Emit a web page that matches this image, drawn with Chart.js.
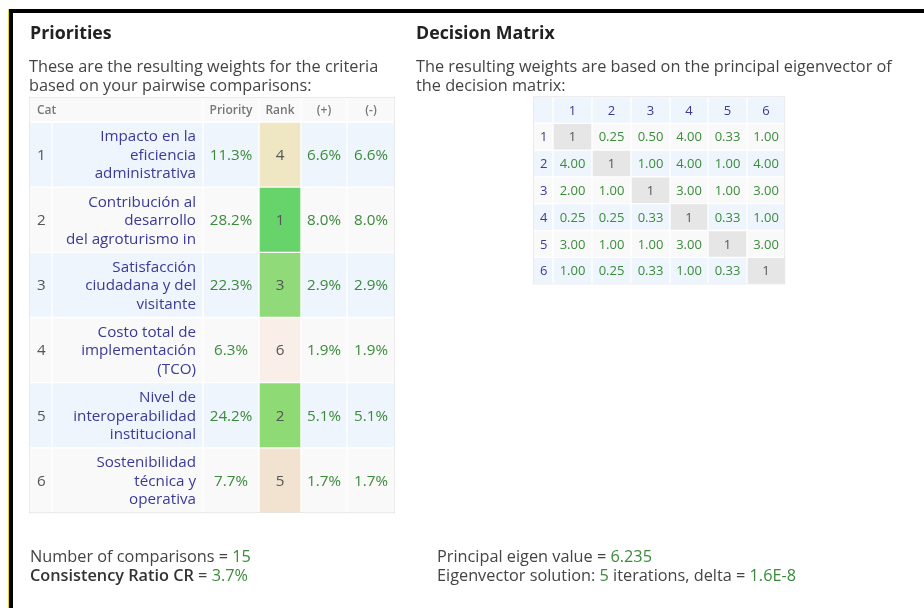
<!DOCTYPE html>
<html>
<head>
<meta charset="utf-8">
<script src="https://cdn.jsdelivr.net/npm/chart.js@4.4.0/dist/chart.umd.min.js"></script>
<style>
  body { margin:0; width:924px; height:608px; overflow:hidden; background:#fff; position:relative;
         font-family:"Open Sans", sans-serif; color:#444; }
  #frameTop { position:absolute; left:9px; top:9px; right:0; height:4px; background:#000; }
  #frameLeft { position:absolute; left:9px; top:9px; bottom:0; width:4px; background:#000; }
  #frameYellow { position:absolute; left:8px; top:9px; bottom:0; width:1px; background:#e5dc00; }
  canvas { position:absolute; left:0; top:0; }
  .t { position:absolute; white-space:nowrap; }
  .h { font-weight:700; font-size:17.8px; color:#222; top:20px; }
  .p { font-size:16.3px; line-height:18.5px; top:57px; color:#444; }
  .f { font-size:16.3px; line-height:19.5px; top:546.5px; color:#444; }
  .g { color:#3b8b3b; }
  b { font-weight:600; color:#333; }
</style>
</head>
<body>
<div id="frameYellow"></div>
<div id="frameTop"></div>
<div id="frameLeft"></div>
<canvas id="c" width="924" height="608"></canvas>

<div class="t h" style="left:30px">Priorities</div>
<div class="t h" style="left:416px">Decision Matrix</div>
<div class="t p" style="left:29px">These are the resulting weights for the criteria<br>based on your pairwise comparisons:</div>
<div class="t p" style="left:416px">The resulting weights are based on the principal eigenvector of<br>the decision matrix:</div>
<div class="t f" style="left:30px">Number of comparisons = <span class="g" id="nComp"></span><br><b>Consistency Ratio CR</b> = <span class="g" id="cr"></span></div>
<div class="t f" style="left:437px">Principal eigen value = <span class="g" id="lambda"></span><br>Eigenvector solution: <span class="g" id="iter"></span> iterations, delta = <span class="g" id="delta"></span></div>

<script>
// table data
const catIds = ['1', '2', '3', '4', '5', '6'];
const catNames = [
    'Impacto en la\neficiencia\nadministrativa',
    'Contribución al\ndesarrollo\ndel agroturismo in',
    'Satisfacción\nciudadana y del\nvisitante',
    'Costo total de\nimplementación\n(TCO)',
    'Nivel de\ninteroperabilidad\ninstitucional',
    'Sostenibilidad\ntécnica y\noperativa'
];
const priorities = [11.3, 28.2, 22.3, 6.3, 24.2, 7.7];
const ranks = [4, 1, 3, 6, 2, 5];
const errPlus = [6.6, 8.0, 2.9, 1.9, 5.1, 1.7];
const errMinus = [6.6, 8.0, 2.9, 1.9, 5.1, 1.7];
const headerLabels = ['Cat', 'Priority', 'Rank', '(+)', '(-)'];

const matrixLabels = ['1', '2', '3', '4', '5', '6'];
const matrix = [
    [1, 0.25, 0.50, 4.00, 0.33, 1.00],
    [4.00, 1, 1.00, 4.00, 1.00, 4.00],
    [2.00, 1.00, 1, 3.00, 1.00, 3.00],
    [0.25, 0.25, 0.33, 1, 0.33, 1.00],
    [3.00, 1.00, 1.00, 3.00, 1, 3.00],
    [1.00, 0.25, 0.33, 1.00, 0.33, 1]
];

const nComparisons = 15;
const consistencyRatio = 3.7;
const eigenValue = 6.235;
const iterations = 5;
const delta = '1.6E-8';

document.getElementById('nComp').textContent = nComparisons;
document.getElementById('cr').textContent = consistencyRatio + '%';
document.getElementById('lambda').textContent = eigenValue;
document.getElementById('iter').textContent = iterations;
document.getElementById('delta').textContent = delta;

// layout (page pixels)
const prioCols = [29, 52, 203, 259, 301, 347, 395];
const prioTop = 97, prioHeadH = 25, prioRowH = 65.17;
const matCols = [533, 553, 592, 631, 670, 708, 747, 785];
const matTop = 96.5, matRowH = 26.8;

const BLUE_ROW = '#eef5fc', GRAY_ROW = '#f9f9f9', DIAG = '#e6e6e6';
const rankColors = {1: '#66d46a', 2: '#8edb75', 3: '#91da79', 4: '#efe7c4', 5: '#f1e3d0', 6: '#faeee9'};

const txtName = {font: '15.2px "Open Sans"', color: '#3a3a98', align: 'right', pad: 6, lh: 18.5};
const txtGreen = {font: '15.2px "Open Sans"', color: '#3b8b3b', align: 'center'};
const txtNum = {font: '15.2px "Open Sans"', color: '#555', align: 'center'};
const txtCat = {font: '15.2px "Open Sans"', color: '#555', align: 'left', pad: 7};
const txtHead = {font: '600 12px "Open Sans"', color: '#777', align: 'center'};
const txtHeadL = {font: '600 12px "Open Sans"', color: '#777', align: 'left', pad: 7};
const mGreen = {font: '13px "Open Sans"', color: '#3b8b3b', align: 'center'};
const mGray = {font: '13px "Open Sans"', color: '#555', align: 'center'};
const mBlue = {font: '13px "Open Sans"', color: '#3a3a98', align: 'center'};
const mBlueL = {font: '13px "Open Sans"', color: '#3a3a98', align: 'left', pad: 6};

function rowDataset(y0, y1, spans, bgs, texts, styles) {
    return {
        data: spans.map(s => ({x: [s[0] + 1, s[1] - 1], y: (y0 + y1) / 2})),
        barThickness: y1 - y0 - 2,
        backgroundColor: bgs,
        borderWidth: 0,
        grouped: false,
        order: 0,
        cellText: texts,
        cellStyle: styles
    };
}

function boxDataset(x0, x1, y0, y1) {
    return {
        data: [{x: [x0, x1], y: (y0 + y1) / 2}],
        barThickness: y1 - y0,
        backgroundColor: '#fff',
        borderColor: '#dedede',
        borderWidth: 1,
        borderSkipped: false,
        grouped: false,
        order: 1
    };
}

const pairs = cols => cols.slice(0, -1).map((c, i) => [c, cols[i + 1]]);
const datasets = [];

// priorities table
const prioBottom = prioTop + prioHeadH + prioRowH * catIds.length;
datasets.push(boxDataset(prioCols[0], prioCols[prioCols.length - 1], prioTop, prioBottom));
const headSpans = [[prioCols[0], prioCols[2]]].concat(pairs(prioCols).slice(2));
datasets.push(rowDataset(prioTop, prioTop + prioHeadH, headSpans, GRAY_ROW, headerLabels,
    [txtHeadL, txtHead, txtHead, txtHead, txtHead]));
catIds.forEach((id, i) => {
    const y0 = prioTop + prioHeadH + i * prioRowH;
    const bg = i % 2 === 0 ? BLUE_ROW : GRAY_ROW;
    datasets.push(rowDataset(y0, y0 + prioRowH, pairs(prioCols),
        [bg, bg, bg, rankColors[ranks[i]], bg, bg],
        [id, catNames[i], priorities[i].toFixed(1) + '%', String(ranks[i]),
         errPlus[i].toFixed(1) + '%', errMinus[i].toFixed(1) + '%'],
        [txtCat, txtName, txtGreen, txtNum, txtGreen, txtGreen]));
});

// decision matrix
const matBottom = matTop + matRowH * (matrixLabels.length + 1);
datasets.push(boxDataset(matCols[0], matCols[matCols.length - 1], matTop, matBottom));
datasets.push(rowDataset(matTop, matTop + matRowH, pairs(matCols), BLUE_ROW,
    [''].concat(matrixLabels), matCols.slice(1).map(() => mBlue)));
matrix.forEach((row, r) => {
    const y0 = matTop + (r + 1) * matRowH;
    const bg = r % 2 === 0 ? GRAY_ROW : BLUE_ROW;
    datasets.push(rowDataset(y0, y0 + matRowH, pairs(matCols),
        [bg].concat(row.map((v, c) => c === r ? DIAG : bg)),
        [matrixLabels[r]].concat(row.map((v, c) => c === r ? '1' : v.toFixed(2))),
        [mBlueL].concat(row.map((v, c) => c === r ? mGray : mGreen))));
});

// writes the text of every cell on top of its bar
const cellTextPlugin = {
    id: 'cellText',
    afterDatasetsDraw(chart) {
        const ctx = chart.ctx;
        chart.data.datasets.forEach((ds, di) => {
            if (!ds.cellText) return;
            chart.getDatasetMeta(di).data.forEach((el, i) => {
                const st = ds.cellStyle[i];
                const lines = String(ds.cellText[i]).split('\n');
                const left = Math.min(el.x, el.base), right = Math.max(el.x, el.base);
                ctx.save();
                ctx.font = st.font;
                ctx.fillStyle = st.color;
                ctx.textBaseline = 'middle';
                ctx.textAlign = st.align;
                let tx = (left + right) / 2;
                if (st.align === 'left') tx = left + st.pad;
                if (st.align === 'right') tx = right - st.pad;
                const lh = st.lh || 18;
                lines.forEach((ln, k) => {
                    ctx.fillText(ln, tx, el.y + 1 + (k - (lines.length - 1) / 2) * lh);
                });
                ctx.restore();
            });
        });
    }
};

new Chart(document.getElementById('c'), {
    type: 'bar',
    data: {datasets: datasets},
    options: {
        responsive: false,
        animation: false,
        indexAxis: 'y',
        events: [],
        layout: {padding: 0},
        plugins: {legend: {display: false}, tooltip: {enabled: false}},
        scales: {
            x: {type: 'linear', min: 0, max: 924, display: false, offset: false},
            y: {type: 'linear', min: 0, max: 608, reverse: true, display: false, offset: false}
        }
    },
    plugins: [cellTextPlugin]
});
</script>
</body>
</html>
